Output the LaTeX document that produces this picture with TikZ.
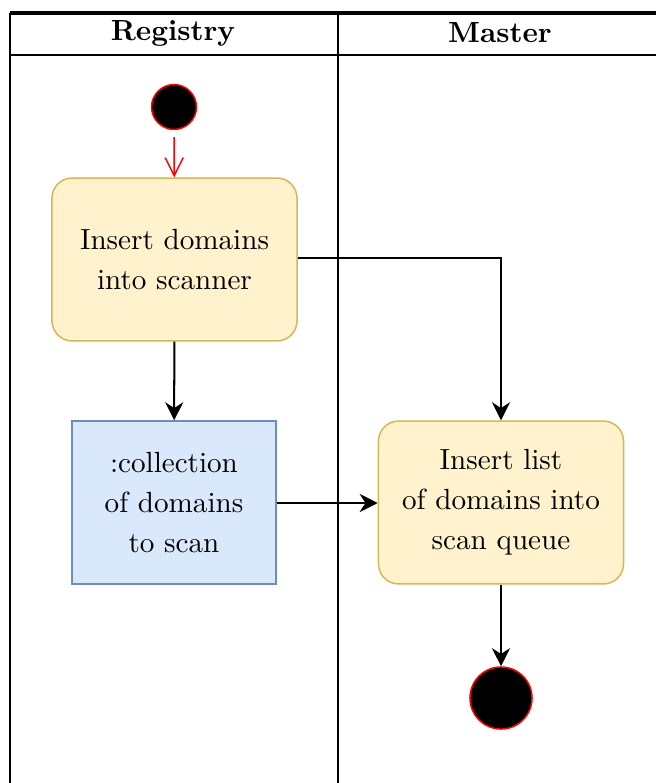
\documentclass[tikz,border=0pt]{standalone}
\usetikzlibrary{arrows.meta}
\definecolor{actfill}{HTML}{FFF2CC}
\definecolor{actline}{HTML}{D6B656}
\definecolor{objfill}{HTML}{DAE8FC}
\definecolor{objline}{HTML}{6C8EBF}
% one drawing unit = 0.3432pt
\tikzset{
  lane/.style={line width=0.69pt, black},
  action/.style={draw=actline, fill=actfill, line width=0.51pt, rounded corners=6.9pt,
    align=center, inner sep=0pt},
  object/.style={draw=objline, fill=objfill, line width=0.51pt,
    align=center, inner sep=0pt},
  initial/.style={circle, draw=red, fill=black, line width=0.51pt, inner sep=0pt},
  flow/.style={line width=0.69pt, -{Stealth[length=6.2pt, width=6.2pt, inset=2pt]}},
  startflow/.style={draw=red, line width=0.51pt, -{Straight Barb[length=6.2pt, width=6.2pt]}},
  hdr/.style={font=\fontsize{10}{12}\selectfont\bfseries, anchor=center},
}
\begin{document}
\begin{tikzpicture}[x=0.3432pt, y=-0.3432pt, font=\fontsize{10}{13.73}\selectfont]
  \useasboundingbox (0,0) rectangle (656,783);

  % swimlane frame
  \draw[line width=1.37pt] (10,13) -- (656,13);
  \draw[lane] (10,13) -- (10,783);
  \draw[lane] (338,13) -- (338,783);
  \draw[lane] (10,55) -- (656,55);
  \node[hdr] (hreg) at (173,33) {Registry};
  \node[hdr] (hmas) at (500,33) {Master};

  % nodes
  \node[initial, minimum size=15.4pt] (start) at (174,107) {};
  \node[action, minimum width=84.1pt, minimum height=55.9pt] (insert) at (174.5,259.5)
    {Insert domains\\into scanner};
  \node[object, minimum width=70pt, minimum height=55.9pt] (coll) at (174,502.5)
    {:collection\\of domains\\to scan};
  \node[action, minimum width=84.1pt, minimum height=55.9pt] (queue) at (501,502.5)
    {Insert list\\of domains into\\scan queue};
  \node[initial, minimum size=21.3pt] (final) at (501,698) {};

  % flows
  \draw[startflow, shorten <=2.4pt] (start) -- (insert);
  \draw[flow] (insert) -- (coll);
  \draw[flow] (insert.east |- 0,258) -| (queue.north);
  \draw[flow] (coll.east |- 0,503) -- (queue.west |- 0,503);
  \draw[flow] (queue) -- (final);
\end{tikzpicture}
\end{document}
